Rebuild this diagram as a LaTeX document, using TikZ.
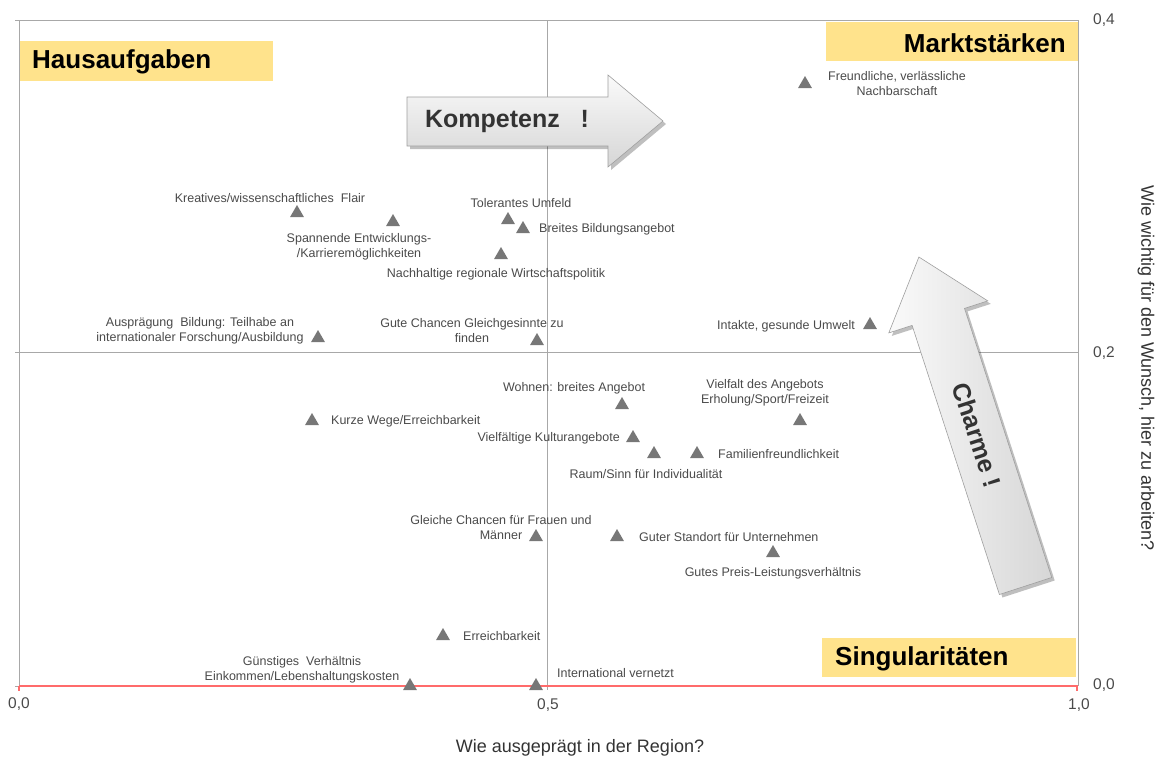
\documentclass[tikz,border=0pt]{standalone}
\usepackage{fontspec}
\setmainfont{Liberation Sans}
\usetikzlibrary{shapes.geometric}
\definecolor{axgray}{HTML}{A8A8A8}
\definecolor{redline}{HTML}{FF6B6B}
\definecolor{lab}{HTML}{4A4A4A}
\definecolor{markc}{HTML}{777777}
\definecolor{quad}{HTML}{FFE38C}
\definecolor{arrowtext}{HTML}{333333}
\begin{document}
\begin{tikzpicture}[x=1pt,y=-1pt,
  mk/.style={regular polygon, regular polygon sides=3, fill=markc, draw=none, inner sep=0pt, minimum size=16pt},
  lbl/.style={font=\fontsize{12.5}{15}\selectfont, text=lab, inner sep=0pt, align=center},
  tick/.style={font=\fontsize{15.5}{18}\selectfont, text=lab, inner sep=0pt},
  axtitle/.style={font=\fontsize{18}{21}\selectfont, text=arrowtext, inner sep=0pt},
  quadbox/.style={fill=quad, draw=none},
  quadtext/.style={font=\fontsize{26}{30}\selectfont\bfseries, text=black, inner sep=0pt},
  grid/.style={draw=axgray, line width=0.9pt},
  bigarrow/.style={draw=gray!75, line width=0.6pt},
  arrowlbl/.style={font=\fontsize{25}{30}\selectfont\bfseries, text=arrowtext, inner sep=0pt}
]
\useasboundingbox (0,0) rectangle (1162,763);

% frame and grid
\draw[grid] (15,20) -- (1078,20) -- (1078,686);
\draw[grid] (19,20) -- (19,686);
\draw[grid] (15,352) -- (1078,352);
\draw[grid] (15,686) -- (19,686);
\draw[grid] (547,20) -- (547,690);
\draw[draw=redline, line width=1.2pt] (19,686) -- (1078,686);
\draw[draw=redline, line width=1.2pt] (19,686) -- (19,691);
\draw[draw=redline, line width=1.2pt] (1077,686) -- (1077,691);

% quadrant boxes
\fill[quadbox] (20,41) rectangle (273,81);
\node[quadtext, anchor=west] (hausaufgaben) at (32,62) {Hausaufgaben};
\fill[quadbox] (826,22) rectangle (1078,61);
\node[quadtext, anchor=east] (markt) at (1066,43) {Marktstärken};
\fill[quadbox] (822,638) rectangle (1076,677);
\node[quadtext, anchor=west] (singular) at (835,659) {Singularitäten};

% tick labels
\node[tick] (x0) at (19,704) {0,0};
\node[tick] (x5) at (548,705) {0,5};
\node[tick] (x10) at (1079,705) {1,0};
\node[tick] (y4) at (1104,20) {0,4};
\node[tick] (y2) at (1104,353) {0,2};
\node[tick] (y0) at (1104,685) {0,0};

% axis titles
\node[axtitle] (xtitle) at (580,748) {Wie ausgeprägt in der Region?};
\node[axtitle, rotate=-90] (ytitle) at (1146,368) {Wie wichtig für den Wunsch, hier zu arbeiten?};

% Kompetenz arrow
\fill[black, opacity=0.25] (410,100) -- (611,100) -- (611,78) -- (666,124) -- (611,170) -- (611,149) -- (410,149) -- cycle;
\path[bigarrow, top color=gray!4, bottom color=gray!32] (407,97) -- (608,97) -- (608,75) -- (663,121) -- (608,167) -- (608,146) -- (407,146) -- cycle;
\node[arrowlbl] (kompetenz) at (507,121) {Kompetenz\ \ \ !};

% Charme arrow
\fill[black, opacity=0.25] (1002.4,597.5) -- (915.1,328.4) -- (891.8,335.9) -- (921.9,260) -- (990.8,303.9) -- (967.5,311.4) -- (1054.7,580.5) -- cycle;
\path[bigarrow, left color=gray!4, right color=gray!32] (999.4,594.5) -- (912.1,325.4) -- (888.8,332.9) -- (918.9,257) -- (987.8,300.9) -- (964.5,308.4) -- (1051.7,577.5) -- cycle;
\node[arrowlbl, rotate=-72] (charme) at (977,435) {Charme !};

% markers
\node[mk] (t1) at (805,84) {};
\node[mk] (t2) at (297,213) {};
\node[mk] (t3) at (393,222) {};
\node[mk] (t4) at (508,220) {};
\node[mk] (t5) at (523,229) {};
\node[mk] (t6) at (501,255) {};
\node[mk] (t7) at (318,338) {};
\node[mk] (t8) at (537,341) {};
\node[mk] (t9) at (622,405) {};
\node[mk] (t10) at (800,421) {};
\node[mk] (t11) at (312,421) {};
\node[mk] (t12) at (633,438) {};
\node[mk] (t13) at (654,454) {};
\node[mk] (t14) at (697,454) {};
\node[mk] (t15) at (536,537) {};
\node[mk] (t16) at (617,537) {};
\node[mk] (t17) at (773,553) {};
\node[mk] (t18) at (443,636) {};
\node[mk] (t19) at (410,686) {};
\node[mk] (t20) at (536,686) {};
\node[mk] (t21) at (870,325) {};

% labels
\node[lbl] (l1) at (897,84) {Freundliche, verlässliche\\Nachbarschaft};
\node[lbl] (l2) at (270,198) {Kreatives/wissenschaftliches~ Flair};
\node[lbl] (l3) at (359,247) {Spannende Entwicklungs-\\/Karrieremöglichkeiten};
\node[lbl] (l4) at (521,203) {Tolerantes Umfeld};
\node[lbl, anchor=west] (l5) at (539,229) {Breites Bildungsangebot};
\node[lbl] (l6) at (496,274) {Nachhaltige regionale Wirtschaftspolitik};
\node[lbl] (l7) at (200,331) {Ausprägung~ Bildung: Teilhabe an\\internationaler Forschung/Ausbildung};
\node[lbl] (l8) at (472,331) {Gute Chancen Gleichgesinnte zu\\finden};
\node[lbl] (l9) at (574,388) {Wohnen: breites Angebot};
\node[lbl] (l10) at (765,393) {Vielfalt des Angebots\\Erholung/Sport/Freizeit};
\node[lbl, anchor=west] (l11) at (331,421) {Kurze Wege/Erreichbarkeit};
\node[lbl, anchor=east] (l12) at (620,438) {Vielfältige Kulturangebote};
\node[lbl] (l13) at (646,474) {Raum/Sinn für Individualität};
\node[lbl, anchor=west] (l14) at (718,454) {Familienfreundlichkeit};
\node[lbl] (l15) at (501,528) {Gleiche Chancen für Frauen und\\Männer};
\node[lbl, anchor=west] (l16) at (639,537) {Guter Standort für Unternehmen};
\node[lbl] (l17) at (773,573) {Gutes Preis-Leistungsverhältnis};
\node[lbl, anchor=west] (l18) at (463,636) {Erreichbarkeit};
\node[lbl] (l19) at (302,670) {Günstiges~ Verhältnis\\Einkommen/Lebenshaltungskosten};
\node[lbl, anchor=west] (l20) at (557,673) {International vernetzt};
\node[lbl, anchor=east] (l21) at (855,326) {Intakte, gesunde Umwelt};
\end{tikzpicture}
\end{document}
